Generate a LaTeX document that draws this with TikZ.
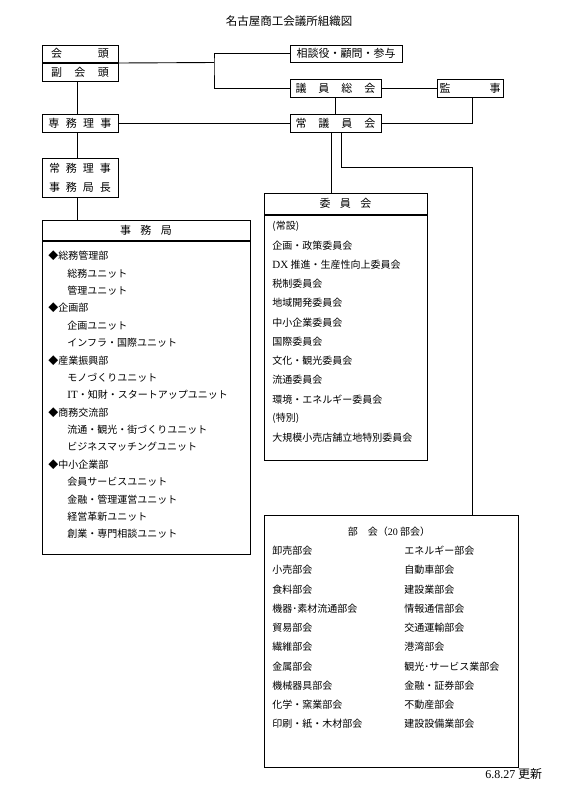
\documentclass[tikz,border=0pt]{standalone}
\usepackage{fontspec}
\setmainfont{Noto Sans CJK JP}
\newfontfamily\latin{Liberation Serif}
\usetikzlibrary{positioning, calc}

\begin{document}
\begin{tikzpicture}[x=1pt, y=-1pt, line width=0.9pt,
    box/.style={draw, line width=1pt, inner sep=0pt, minimum width=76pt,
        minimum height=17.5pt, font=\fontsize{11}{13}\selectfont},
    item/.style={anchor=west, inner sep=0pt, font=\fontsize{10}{12}\selectfont},
    ]

    \useasboundingbox (0,0) rectangle (566,804);

    % =========================================================================
    % TITLE
    % =========================================================================
    \node[font=\fontsize{11.5}{13}\selectfont] (title) at (289,21) {名古屋商工会議所組織図};

    % =========================================================================
    % LEFT COLUMN: Chairman, Executive Director, Secretariat
    % =========================================================================
    \node[box] (kaito) at (80,53.75) {\makebox[58pt]{会\hfill 頭}};
    \node[box, below=0pt of kaito] (fukukaito) {\makebox[58pt]{副\hfill 会\hfill 頭}};

    \node[box] (senmu) at (80,123.5) {\makebox[63pt]{専\hfill 務\hfill 理\hfill 事}};

    \node[box, minimum height=39pt, align=center, font=\fontsize{11}{19}\selectfont] (jomu) at (80,177.5)
        {\makebox[62pt]{常\hfill 務\hfill 理\hfill 事}\\\makebox[62pt]{事\hfill 務\hfill 局\hfill 長}};

    % Secretariat box (header + body)
    \node[box, minimum width=208pt, minimum height=20pt] (jmkhead) at (146,230) {\makebox[52pt]{事\hfill 務\hfill 局}\hspace{18pt}};
    \node[box, minimum width=208pt, minimum height=313pt, below=0pt of jmkhead] (jmk) {};

    \foreach \ind/\txt [count=\i] in {0/◆総務管理部, 19/総務ユニット, 19/管理ユニット,
            0/◆企画部, 19/企画ユニット, 19/インフラ・国際ユニット,
            0/◆産業振興部, 19/モノづくりユニット, 19/{{\latin\fontsize{11}{12}\selectfont IT}・知財・スタートアップユニット},
            0/◆商務交流部, 19/流通・観光・街づくりユニット, 19/ビジネスマッチングユニット,
            0/◆中小企業部, 19/会員サービスユニット, 19/金融・管理運営ユニット,
            19/経営革新ユニット, 19/創業・専門相談ユニット}
        \node[item] (jm\i) at (48+\ind, 256+17.375*\i-17.375) {\txt};

    % =========================================================================
    % RIGHT COLUMN: Assemblies, Auditors, Committees, Sectional Meetings
    % =========================================================================
    \node[box, minimum width=112pt] (sodan) at (346,53.75) {相談役・顧問・参与};
    \node[box, minimum width=91pt] (giin) at (335.5,88.5) {\makebox[80pt]{議\hfill 員\hfill 総\hfill 会}};
    \node[box, minimum width=66pt] (kanji) at (470,88.5) {\makebox[61pt]{監\hfill 事}};
    \node[box, minimum width=91pt] (jogiin) at (335.5,123.5) {\makebox[80pt]{常\hfill 議\hfill 員\hfill 会}};

    % Committees box (header + body)
    \node[box, minimum width=163pt, minimum height=21pt] (iinhead) at (345.5,203.5) {\makebox[52pt]{委\hfill 員\hfill 会}};
    \node[box, minimum width=163pt, minimum height=245pt, below=0pt of iinhead] (iin) {};

    \foreach \txt [count=\i] in {{(常設)}, 企画・政策委員会, {{\latin\fontsize{11}{12}\selectfont DX} 推進・生産性向上委員会},
            税制委員会, 地域開発委員会, 中小企業委員会, 国際委員会, 文化・観光委員会,
            流通委員会, 環境・エネルギー委員会, {(特別)}, 大規模小売店舗立地特別委員会}
        \node[item] (iin\i) at (272, 226+19.27*\i-19.27) {\txt};

    % Sectional meetings box
    \node[box, minimum width=254pt, minimum height=252pt] (bukai) at (391,641) {};
    \node[item, anchor=center] (bukaihead) at (389,532) {部　会（{\latin 20} 部会）};

    \foreach \l/\r [count=\i] in {卸売部会/エネルギー部会, 小売部会/自動車部会, 食料部会/建設業部会,
            機器･素材流通部会/情報通信部会, 貿易部会/交通運輸部会, 繊維部会/港湾部会,
            金属部会/観光･サービス業部会, 機械器具部会/金融・証券部会,
            化学・窯業部会/不動産部会, 印刷・紙・木材部会/建設設備業部会}
    {
        \node[item] (bl\i) at (272, 551+19.2*\i-19.2) {\l};
        \node[item] (br\i) at (404, 551+19.2*\i-19.2) {\r};
    }

    \node[item, font=\fontsize{12}{14}\selectfont] (upd) at (485,774) {{\latin 6.8.27} 更新};

    % =========================================================================
    % CONNECTORS
    % =========================================================================
    \coordinate (spine) at (77,0);
    \coordinate (kcol) at (472,0);
    \coordinate (iincol) at (331,0);
    \coordinate (fork) at (214,62.5);
    \coordinate (bend) at (341,167);

    \draw (fukukaito.north east) -- (fork);
    \draw (sodan.west) -| (fork) |- (giin.west);
    \draw (giin.east) -- (kanji.west);
    \draw (giin.south) -- (jogiin.north);
    \draw (kanji.south -| kcol) |- (jogiin.east);

    \draw (fukukaito.south -| spine) -- (senmu.north -| spine);
    \draw (senmu.east) -- (jogiin.west);
    \draw (senmu.south -| spine) -- (jomu.north -| spine);
    \draw (jomu.south -| spine) -- (jmkhead.north -| spine);

    \draw (jogiin.south -| iincol) -- (iinhead.north -| iincol);
    \draw (jogiin.south -| bend) |- (bend -| kcol) -- (bukai.north -| kcol);

\end{tikzpicture}
\end{document}
